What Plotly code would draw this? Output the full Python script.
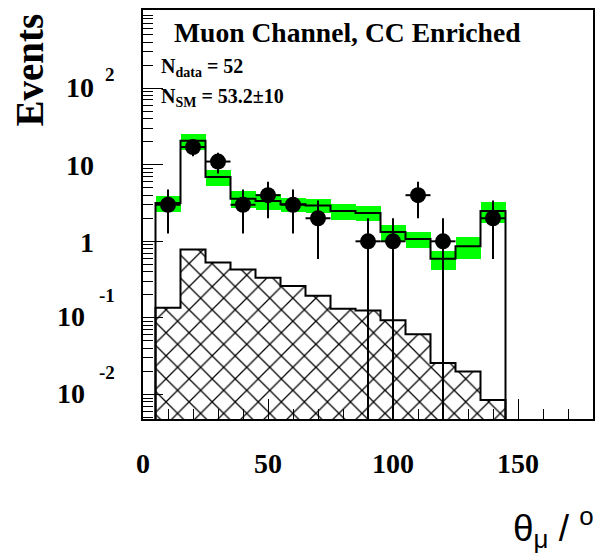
import math
import plotly.graph_objects as go

# ---------------- data ----------------
bin_centers = [10, 20, 30, 40, 50, 60, 70, 80, 90, 100, 110, 120, 130, 140]
bin_edges = [5, 15, 25, 35, 45, 55, 65, 75, 85, 95, 105, 115, 125, 135, 145]
bin_half_width = 5

data_counts = [3, 17, 11, 3, 4, 3, 2, 0, 1, 1, 4, 1, 0, 2]
sm_total = [3.17, 20.5, 6.9, 3.6, 3.36, 3.05, 2.93, 2.49, 2.34, 1.32, 1.07, 0.59, 0.86, 2.49]
sm_error = [0.73, 4.75, 1.6, 0.89, 0.83, 0.65, 0.6, 0.58, 0.51, 0.31, 0.26, 0.165, 0.265, 0.74]
hatched_bg = [0.136, 0.78, 0.53, 0.43, 0.335, 0.26, 0.195, 0.132, 0.125, 0.093, 0.061, 0.0257, 0.02, 0.0085]

x_ticks = [0, 50, 100, 150]
x_tick_labels = ["0", "50", "100", "150"]
y_ticks = [0.01, 0.1, 1, 10, 100]
y_tick_base = ["10", "10", "1", "10", "10"]
y_tick_exp = ["-2", "-1", "", "", "2"]

title_text = "Muon Channel, CC Enriched"
ndata_text = "N<sub>data</sub> = 52"
nsm_text = "N<sub>SM</sub> = 53.2\u00b110"
y_title = "Events"
x_title = "\u03b8<sub>\u03bc</sub> / <sup>o</sup>"

# ---------------- geometry / style ----------------
W, H = 598, 553
ML, MR, MT, MB = 143, 3, 10, 134
PW = W - ML - MR
PH = H - MT - MB
Y_RANGE = [-2.32, 3.02]
FLOOR = 10 ** (Y_RANGE[0] - 1)
SERIF = "Liberation Serif"
SANS = "Liberation Sans"


def px_to_xpaper(px):
    return (px - ML) / PW


def px_to_ypaper(py):
    return 1 - (py - MT) / PH


def step_xy(values):
    xs = [bin_edges[0]]
    ys = [FLOOR]
    for i, v in enumerate(values):
        xs.append(bin_edges[i])
        ys.append(v)
    xs.append(bin_edges[-1])
    ys.append(values[-1])
    xs.append(bin_edges[-1])
    ys.append(FLOOR)
    return xs, ys


fig = go.Figure()

# green SM uncertainty band
fig.add_trace(go.Bar(
    x=bin_centers,
    y=[2 * e for e in sm_error],
    base=[v - e for v, e in zip(sm_total, sm_error)],
    width=[2 * bin_half_width] * len(bin_centers),
    marker=dict(color="#00ff00", line=dict(width=0)),
    showlegend=False, hoverinfo="skip",
))

# hatched histogram
fig.add_trace(go.Bar(
    x=bin_centers,
    y=hatched_bg,
    width=[2 * bin_half_width] * len(bin_centers),
    marker=dict(color="white", opacity=1, line=dict(width=0),
                pattern=dict(shape="x", fgcolor="#000000", bgcolor="#ffffff", fgopacity=1,
                             fillmode="replace", size=16.3, solidity=0.15)),
    showlegend=False, hoverinfo="skip",
))

hx, hy = step_xy(hatched_bg)
fig.add_trace(go.Scatter(x=hx, y=hy, mode="lines", line=dict(color="black", width=2, shape="hv"),
                         showlegend=False, hoverinfo="skip"))

sx, sy = step_xy(sm_total)
fig.add_trace(go.Scatter(x=sx, y=sy, mode="lines", line=dict(color="black", width=2, shape="hv"),
                         showlegend=False, hoverinfo="skip"))

# data points
dx = [c for c, n in zip(bin_centers, data_counts) if n > 0]
dy = [n for n in data_counts if n > 0]
derr = [math.sqrt(n) for n in dy]
fig.add_trace(go.Scatter(
    x=dx, y=dy, mode="markers",
    marker=dict(color="black", size=16, symbol="circle"),
    error_y=dict(type="data", array=derr, color="black", thickness=2, width=0),
    error_x=dict(type="constant", value=bin_half_width, color="black", thickness=2, width=0),
    showlegend=False, hoverinfo="skip",
))

annotations = []
# y tick labels
for v, base, ex in zip(y_ticks, y_tick_base, y_tick_exp):
    ly = math.log10(v)
    if ex == "":
        annotations.append(dict(xref="paper", yref="y", x=px_to_xpaper(96), y=ly,
                                xanchor="right", yanchor="middle", showarrow=False, yshift=-1,
                                text=base, font=dict(family=SERIF, size=28, color="black", weight="bold")))
    else:
        exp_right = 117
        base_right = exp_right - 9 * len(ex) - 12
        annotations.append(dict(xref="paper", yref="y", x=px_to_xpaper(base_right), y=ly,
                                xanchor="right", yanchor="middle", showarrow=False, yshift=1,
                                text=base, font=dict(family=SERIF, size=28, color="black", weight="bold")))
        annotations.append(dict(xref="paper", yref="y", x=px_to_xpaper(exp_right), y=ly,
                                xanchor="right", yanchor="middle", showarrow=False,
                                yshift=22 if ex.startswith("-") else 14,
                                text=ex, font=dict(family=SERIF, size=19, color="black", weight="bold")))

annotations.append(dict(xref="paper", yref="paper", x=px_to_xpaper(172), y=px_to_ypaper(32),
                        xanchor="left", yanchor="middle", showarrow=False, text=title_text,
                        font=dict(family=SERIF, size=27.6, color="black", weight="bold")))
annotations.append(dict(xref="paper", yref="paper", x=px_to_xpaper(159), y=px_to_ypaper(67),
                        xanchor="left", yanchor="middle", showarrow=False, text=ndata_text,
                        font=dict(family=SERIF, size=20, color="black", weight="bold")))
annotations.append(dict(xref="paper", yref="paper", x=px_to_xpaper(159), y=px_to_ypaper(97),
                        xanchor="left", yanchor="middle", showarrow=False, text=nsm_text,
                        font=dict(family=SERIF, size=20, color="black", weight="bold")))
annotations.append(dict(xref="paper", yref="paper", x=px_to_xpaper(28), y=px_to_ypaper(70),
                        xanchor="center", yanchor="middle", showarrow=False, text=y_title, textangle=-90,
                        font=dict(family=SERIF, size=39, color="black", weight="bold")))
annotations.append(dict(xref="paper", yref="paper", x=px_to_xpaper(598), y=px_to_ypaper(527),
                        xanchor="right", yanchor="middle", showarrow=False, text=x_title,
                        font=dict(family=SANS, size=37, color="black")))

minor_y = [m * 10 ** k for k in range(-3, 3) for m in range(2, 10)]

fig.update_layout(
    width=W, height=H,
    margin=dict(l=ML, r=MR, t=MT, b=MB, pad=0),
    paper_bgcolor="white", plot_bgcolor="white",
    barmode="overlay", bargap=0,
    showlegend=False,
    annotations=annotations,
    xaxis=dict(
        range=[0, 180], showgrid=False, zeroline=False,
        showline=True, linecolor="black", linewidth=2, mirror=True,
        ticks="inside", ticklen=20, tickwidth=1, tickcolor="black",
        tickvals=x_ticks, ticktext=x_tick_labels,
        tickfont=dict(family=SERIF, size=28, color="black", weight="bold"),
        ticklabelstandoff=18,
        minor=dict(dtick=10, ticks="inside", ticklen=10, tickwidth=1, tickcolor="black", showgrid=False),
    ),
    yaxis=dict(
        type="log", range=Y_RANGE, showgrid=False, zeroline=False,
        showline=True, linecolor="black", linewidth=2, mirror=True,
        ticks="inside", ticklen=20, tickwidth=1, tickcolor="black",
        tickvals=y_ticks, showticklabels=False,
        minor=dict(tickvals=minor_y, ticks="inside", ticklen=10, tickwidth=1, tickcolor="black", showgrid=False),
    ),
)

fig.write_html("out.html", config={"displayModeBar": False},
               post_script="document.body.style.margin='0';document.body.style.overflow='hidden';")
